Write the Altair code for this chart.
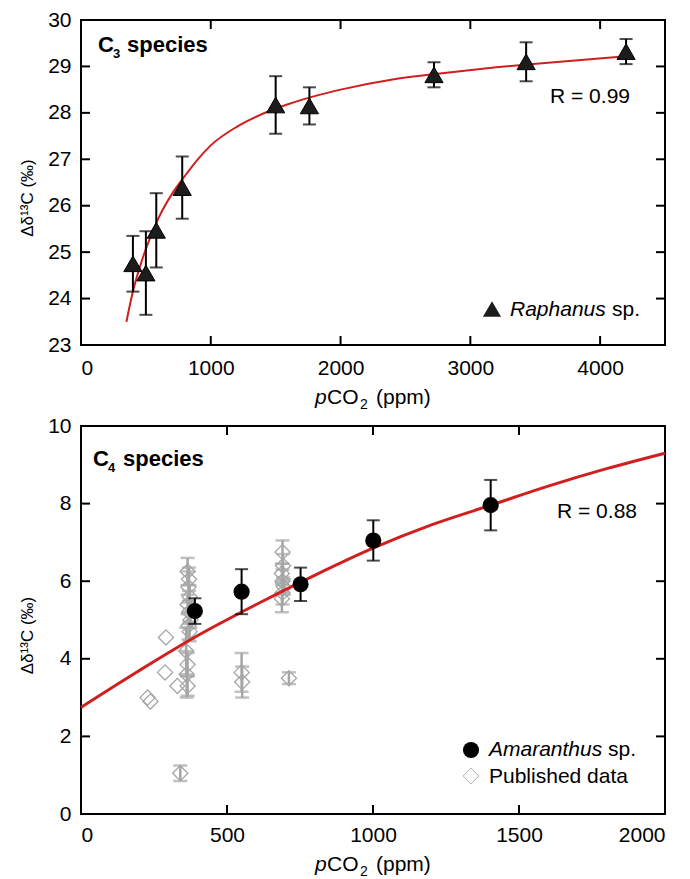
import altair as alt
import pandas as pd

FONT = "Liberation Sans"

# ---------------- C3 panel (Raphanus) ----------------
c3_pco2 = [400, 500, 580, 780, 1500, 1760, 2720, 3430, 4200]
c3_delta = [24.75, 24.55, 25.47, 26.39, 28.17, 28.15, 28.82, 29.10, 29.32]
c3_err = [0.60, 0.90, 0.80, 0.67, 0.62, 0.40, 0.27, 0.42, 0.27]
c3_fit_x = [350, 400, 450, 500, 600, 700, 800, 900, 1000, 1200, 1400, 1600, 1800,
            2000, 2400, 2800, 3200, 3600, 4200]
c3_fit_y = [23.5, 24.15, 24.65, 25.07, 25.75, 26.25, 26.64, 27.0, 27.3, 27.7, 27.98,
            28.19, 28.36, 28.5, 28.72, 28.86, 28.98, 29.08, 29.22]
c3_xticks = [0, 1000, 2000, 3000, 4000]
c3_yticks = [23, 24, 25, 26, 27, 28, 29, 30]

# ---------------- C4 panel (Amaranthus + published) ----------------
c4_pco2 = [390, 550, 752, 1001, 1403]
c4_delta = [5.23, 5.73, 5.92, 7.05, 7.96]
c4_err = [0.33, 0.58, 0.43, 0.52, 0.65]
c4_fit_x = [0, 200, 400, 600, 800, 1000, 1200, 1400, 1600, 1800, 2000]
c4_fit_y = [2.75, 3.7, 4.6, 5.4, 6.15, 6.85, 7.45, 7.95, 8.45, 8.9, 9.3]
pub_pco2 = [365, 370, 368, 372, 365, 370, 375, 368, 372, 360, 365, 362, 365,
            330, 291, 288, 228, 238, 340, 550, 552, 712,
            690, 692, 688, 690, 695, 690, 688]
pub_delta = [6.25, 6.05, 5.85, 5.6, 5.4, 5.2, 5.0, 4.85, 4.7, 4.2, 3.85, 3.6, 3.3,
             3.3, 4.55, 3.65, 3.0, 2.9, 1.05, 3.65, 3.4, 3.5,
             6.75, 6.4, 6.2, 6.0, 5.85, 5.7, 5.55]
pub_err = [0.35, 0.3, 0.4, 0.3, 0.25, 0.3, 0.2, 0.35, 0.25, 0.6, 0.3, 0.6, 0.25,
           0, 0, 0, 0, 0, 0.2, 0.5, 0.4, 0.15,
           0.3, 0.3, 0.25, 0.3, 0.2, 0.3, 0.35]
c4_xticks = [0, 500, 1000, 1500, 2000]
c4_yticks = [0, 2, 4, 6, 8, 10]

W = 584
H1 = 325
H2 = 388
RED = "#d11f1f"
GREY = "#a6a6a6"
LBL = 21

one = pd.DataFrame({"k": [0]})


def label(txt, x, y, size=21, weight="normal", style="normal", align="left", color="black"):
    return alt.Chart(one).mark_text(
        text=txt, fontSize=size, fontWeight=weight, fontStyle=style, align=align,
        baseline="alphabetic", font=FONT, color=color
    ).encode(x=alt.value(x), y=alt.value(y))


def xtitle(h, dy):
    y = h + dy
    return [
        label("p", 234, y, style="italic"),
        label("CO", 246, y),
        label("2", 279, y + 5, size=14),
        label("(ppm)", 295, y),
    ]


def inner_ticks(xvals, yvals, xs, ys, h):
    tx = pd.DataFrame({"v": xvals})
    ty = pd.DataFrame({"v": yvals})
    L = 9
    st = dict(color="black", strokeWidth=2)
    return [
        alt.Chart(tx).mark_rule(**st).encode(x=alt.X("v:Q", scale=xs), y=alt.value(h), y2=alt.value(h - L)),
        alt.Chart(tx).mark_rule(**st).encode(x=alt.X("v:Q", scale=xs), y=alt.value(0), y2=alt.value(L)),
        alt.Chart(ty).mark_rule(**st).encode(y=alt.Y("v:Q", scale=ys), x=alt.value(0), x2=alt.value(L)),
        alt.Chart(ty).mark_rule(**st).encode(y=alt.Y("v:Q", scale=ys), x=alt.value(W - L), x2=alt.value(W)),
    ]


def axes(xticks, yticks, h, xpad):
    common = dict(ticks=False, domain=False, grid=False, labelFont=FONT, labelFontSize=LBL,
                  labelColor="black")
    xax = alt.Axis(values=xticks, labelPadding=xpad, title=None, format="d", **common)
    yax = alt.Axis(values=yticks, labelPadding=10, title="Δδ¹³C (‰)",
                   titleFont=FONT, titleFontSize=17, titleFontWeight="normal",
                   titleColor="black", titlePadding=11, titleY=h / 2 + 15,
                   format="d", **common)
    return xax, yax


# ---------- top panel ----------
xs1 = alt.Scale(domain=[0, 4500], nice=False, zero=False)
ys1 = alt.Scale(domain=[23, 30], nice=False, zero=False)
xax1, yax1 = axes(c3_xticks, c3_yticks, H1, 12)

df3 = pd.DataFrame({"x": c3_pco2, "y": c3_delta, "e": c3_err})
df3["lo"] = df3["y"] - df3["e"]
df3["hi"] = df3["y"] + df3["e"]
fit3 = pd.DataFrame({"x": c3_fit_x, "y": c3_fit_y})

top_layers = [
    alt.Chart(fit3).mark_line(color=RED, strokeWidth=2, interpolate="monotone").encode(
        x=alt.X("x:Q", scale=xs1, axis=xax1), y=alt.Y("y:Q", scale=ys1, axis=yax1)),
    alt.Chart(df3).mark_rule(color="black", strokeWidth=2).encode(
        x=alt.X("x:Q", scale=xs1), y=alt.Y("lo:Q", scale=ys1), y2="hi:Q"),
    alt.Chart(df3).mark_tick(color="black", orient="horizontal", size=13, thickness=2).encode(
        x=alt.X("x:Q", scale=xs1), y=alt.Y("lo:Q", scale=ys1)),
    alt.Chart(df3).mark_tick(color="black", orient="horizontal", size=13, thickness=2).encode(
        x=alt.X("x:Q", scale=xs1), y=alt.Y("hi:Q", scale=ys1)),
    alt.Chart(df3).mark_point(shape="triangle-up", filled=True, size=330, color="#1c1c1c",
                              stroke="black", strokeWidth=1, opacity=1).encode(
        x=alt.X("x:Q", scale=xs1), y=alt.Y("y:Q", scale=ys1)),
]
top_layers += inner_ticks(c3_xticks[1:], c3_yticks[1:-1], xs1, ys1, H1)
top_layers += [
    label("C", 17, 32, size=22, weight="bold"),
    label("3", 32, 38, size=13, weight="bold"),
    label("species", 46, 32, size=22, weight="bold"),
    label("R = 0.99", 549, 83, size=21, align="right"),
    alt.Chart(one).mark_point(shape="triangle-up", filled=True, size=330, color="#1c1c1c",
                              opacity=1).encode(x=alt.value(411), y=alt.value(289)),
    label("Raphanus", 429, 296, size=21, style="italic"),
    label("sp.", 531, 296, size=21),
]
top_layers += xtitle(H1, 59)
top = alt.layer(*top_layers).properties(width=W, height=H1)

# ---------- bottom panel ----------
xs2 = alt.Scale(domain=[0, 2000], nice=False, zero=False)
ys2 = alt.Scale(domain=[0, 10], nice=False, zero=False)
xax2, yax2 = axes(c4_xticks, c4_yticks, H2, 10)

df4 = pd.DataFrame({"x": c4_pco2, "y": c4_delta, "e": c4_err})
df4["lo"] = df4["y"] - df4["e"]
df4["hi"] = df4["y"] + df4["e"]
pub = pd.DataFrame({"x": pub_pco2, "y": pub_delta, "e": pub_err})
pub["lo"] = pub["y"] - pub["e"]
pub["hi"] = pub["y"] + pub["e"]
pub_e = pub[pub["e"] > 0]
fit4 = pd.DataFrame({"x": c4_fit_x, "y": c4_fit_y})

bot_layers = [
    alt.Chart(pub_e).mark_rule(color=GREY, strokeWidth=2.5).encode(
        x=alt.X("x:Q", scale=xs2, axis=xax2), y=alt.Y("lo:Q", scale=ys2, axis=yax2), y2="hi:Q"),
    alt.Chart(pub_e).mark_tick(color=GREY, orient="horizontal", size=14, thickness=2.5).encode(
        x=alt.X("x:Q", scale=xs2), y=alt.Y("lo:Q", scale=ys2)),
    alt.Chart(pub_e).mark_tick(color=GREY, orient="horizontal", size=14, thickness=2.5).encode(
        x=alt.X("x:Q", scale=xs2), y=alt.Y("hi:Q", scale=ys2)),
    alt.Chart(pub).mark_point(shape="diamond", filled=False, size=230, color=GREY, strokeWidth=1.3,
                              opacity=1).encode(x=alt.X("x:Q", scale=xs2), y=alt.Y("y:Q", scale=ys2)),
    alt.Chart(fit4).mark_line(color=RED, strokeWidth=3, interpolate="monotone").encode(
        x=alt.X("x:Q", scale=xs2), y=alt.Y("y:Q", scale=ys2)),
    alt.Chart(df4).mark_rule(color="black", strokeWidth=2).encode(
        x=alt.X("x:Q", scale=xs2), y=alt.Y("lo:Q", scale=ys2), y2="hi:Q"),
    alt.Chart(df4).mark_tick(color="black", orient="horizontal", size=13, thickness=2).encode(
        x=alt.X("x:Q", scale=xs2), y=alt.Y("lo:Q", scale=ys2)),
    alt.Chart(df4).mark_tick(color="black", orient="horizontal", size=13, thickness=2).encode(
        x=alt.X("x:Q", scale=xs2), y=alt.Y("hi:Q", scale=ys2)),
    alt.Chart(df4).mark_point(shape="circle", filled=True, size=260, color="black", opacity=1).encode(
        x=alt.X("x:Q", scale=xs2), y=alt.Y("y:Q", scale=ys2)),
]
bot_layers += inner_ticks(c4_xticks[1:-1], c4_yticks[1:-1], xs2, ys2, H2)
bot_layers += [
    label("C", 12, 40, size=22, weight="bold"),
    label("4", 27, 46, size=13, weight="bold"),
    label("species", 42, 40, size=22, weight="bold"),
    label("R = 0.88", 556, 92, size=21, align="right"),
    alt.Chart(one).mark_point(shape="circle", filled=True, size=260, color="black", opacity=1).encode(
        x=alt.value(390), y=alt.value(324)),
    label("Amaranthus", 408, 330, size=21, style="italic"),
    label("sp.", 527, 330, size=21),
    alt.Chart(one).mark_point(shape="diamond", filled=False, size=250, color="#b0b0b0", strokeWidth=1,
                              opacity=1).encode(x=alt.value(390), y=alt.value(350)),
    label("Published data", 408, 357, size=21),
]
bot_layers += xtitle(H2, 57)
bottom = alt.layer(*bot_layers).properties(width=W, height=H2)

chart = alt.vconcat(top, bottom, spacing=1).properties(
    padding={"left": 9, "top": 0, "right": 0, "bottom": 0},
    background="white",
).configure_view(stroke="black", strokeWidth=2)

chart.save("out.html", embed_options={"renderer": "svg", "actions": False})
